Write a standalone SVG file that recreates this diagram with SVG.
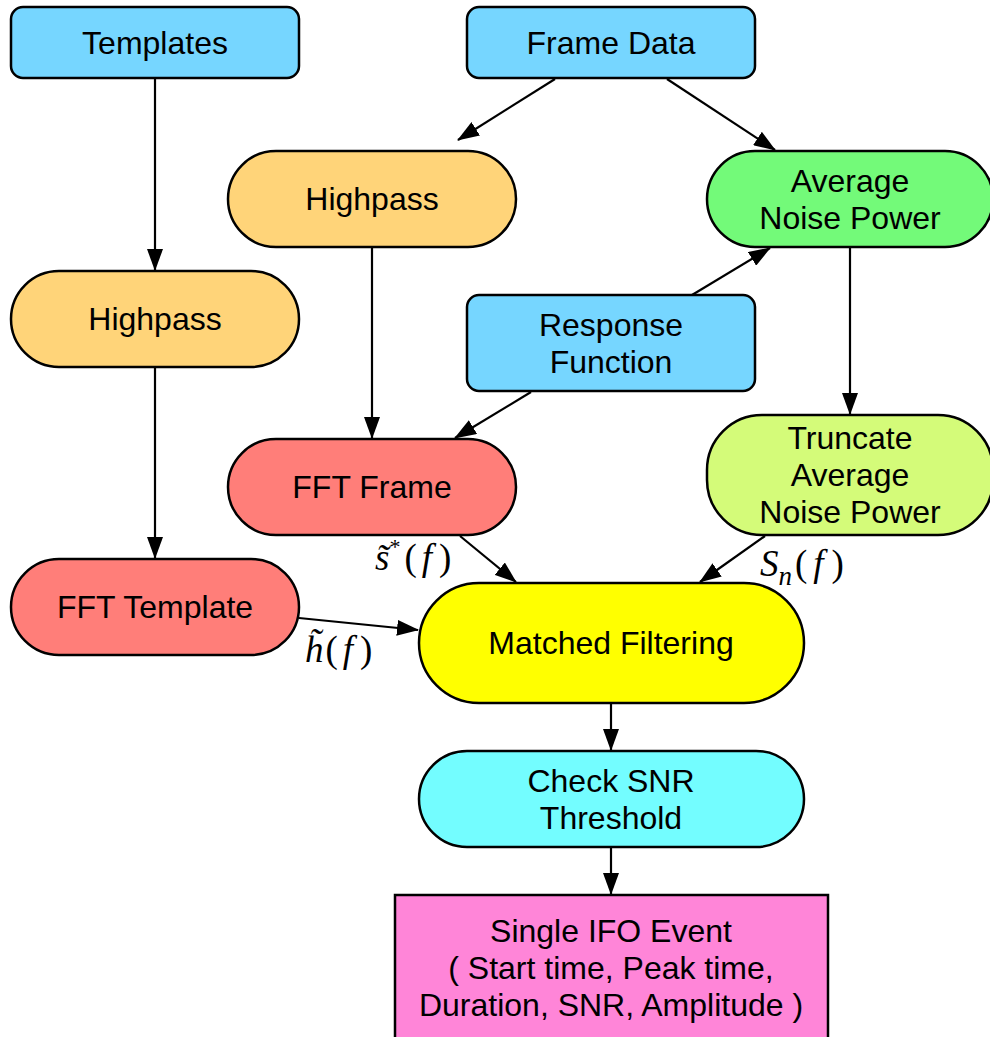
<svg xmlns="http://www.w3.org/2000/svg" width="990" height="1037" viewBox="0 0 990 1037">
<style>
.n{stroke:#000;stroke-width:2.5}
.t{font-family:"Liberation Sans",Arial,sans-serif;font-size:32px;text-anchor:middle;fill:#000}
.m{font-family:"Liberation Serif","Times New Roman",serif;font-size:37px;fill:#000}
.i{font-style:italic}
.c line{stroke:#000;stroke-width:2.2;marker-end:url(#a)}
</style>
<defs>
<marker id="a" markerWidth="22" markerHeight="16" refX="21" refY="8" orient="auto" markerUnits="userSpaceOnUse">
<path d="M0,0 L22,8 L0,16 z" fill="#000"/>
</marker>
</defs>
<rect width="990" height="1037" fill="#fff"/>
<g class="c">
<line x1="155" y1="78" x2="155" y2="270"/>
<line x1="555" y1="79" x2="458" y2="140"/>
<line x1="667" y1="79" x2="775" y2="150"/>
<line x1="692" y1="295" x2="770" y2="248"/>
<line x1="531" y1="392" x2="455" y2="438"/>
<line x1="372" y1="247" x2="372" y2="438"/>
<line x1="850" y1="247" x2="850" y2="414"/>
<line x1="155" y1="367" x2="155" y2="558"/>
<line x1="460" y1="536" x2="516" y2="582"/>
<line x1="765" y1="536" x2="700" y2="582"/>
<line x1="299" y1="618" x2="418" y2="630"/>
<line x1="611" y1="703" x2="611" y2="750"/>
<line x1="611" y1="847" x2="611" y2="894"/>
</g>
<g id="templates"><rect class="n" x="11" y="7" width="288" height="71" rx="12" fill="#76D6FF"/><text class="t" x="155" y="54">Templates</text></g>
<g id="framedata"><rect class="n" x="467" y="7" width="288" height="71" rx="12" fill="#76D6FF"/><text class="t" x="611" y="54">Frame Data</text></g>
<g id="highpass2"><rect class="n" x="228" y="151" width="288" height="96" rx="48" fill="#FFD479"/><text class="t" x="372" y="210">Highpass</text></g>
<g id="avgnoise"><rect class="n" x="707" y="151" width="286" height="96" rx="48" fill="#73FA79"/><text class="t" x="850" y="192">Average</text><text class="t" x="850" y="229">Noise Power</text></g>
<g id="highpass1"><rect class="n" x="11" y="271" width="288" height="96" rx="48" fill="#FFD479"/><text class="t" x="155" y="330">Highpass</text></g>
<g id="response"><rect class="n" x="467" y="295" width="288" height="96" rx="12" fill="#76D6FF"/><text class="t" x="611" y="336">Response</text><text class="t" x="611" y="373">Function</text></g>
<g id="fftframe"><rect class="n" x="228" y="439" width="288" height="96" rx="48" fill="#FF7E79"/><text class="t" x="372" y="498">FFT Frame</text></g>
<g id="truncate"><rect class="n" x="707" y="415" width="286" height="120" rx="55" fill="#D4FB79"/><text class="t" x="850" y="449">Truncate</text><text class="t" x="850" y="486">Average</text><text class="t" x="850" y="523">Noise Power</text></g>
<g id="ffttemplate"><rect class="n" x="11" y="559" width="288" height="96" rx="48" fill="#FF7E79"/><text class="t" x="155" y="618">FFT Template</text></g>
<g id="matched"><rect class="n" x="419" y="583" width="385" height="120" rx="60" fill="#FFFF00"/><text class="t" x="611" y="654">Matched Filtering</text></g>
<g id="checksnr"><rect class="n" x="419" y="751" width="385" height="96" rx="48" fill="#73FDFF"/><text class="t" x="611" y="792">Check SNR</text><text class="t" x="611" y="829">Threshold</text></g>
<g id="single"><rect class="n" x="395" y="895" width="433" height="150" fill="#FF85D8"/><text class="t" x="611" y="942">Single IFO Event</text><text class="t" x="611" y="979">( Start time, Peak time,</text><text class="t" x="611" y="1016">Duration, SNR, Amplitude )</text></g>
<g id="labels">
<text class="m" x="375" y="570"><tspan class="i">s̃</tspan><tspan font-size="22" dy="-16">*</tspan><tspan dy="16" dx="4">(</tspan><tspan class="i" dx="5">f</tspan><tspan dx="7">)</tspan></text>
<text class="m" x="305" y="662"><tspan class="i">h̃</tspan><tspan dx="2">(</tspan><tspan class="i" dx="5">f</tspan><tspan dx="7">)</tspan></text>
<text class="m" x="760" y="576" font-size="40"><tspan class="i">S</tspan><tspan class="i" font-size="27" dy="9">n</tspan><tspan dy="-9" dx="3">(</tspan><tspan class="i" dx="6">f</tspan><tspan dx="8">)</tspan></text>
</g>
</svg>
